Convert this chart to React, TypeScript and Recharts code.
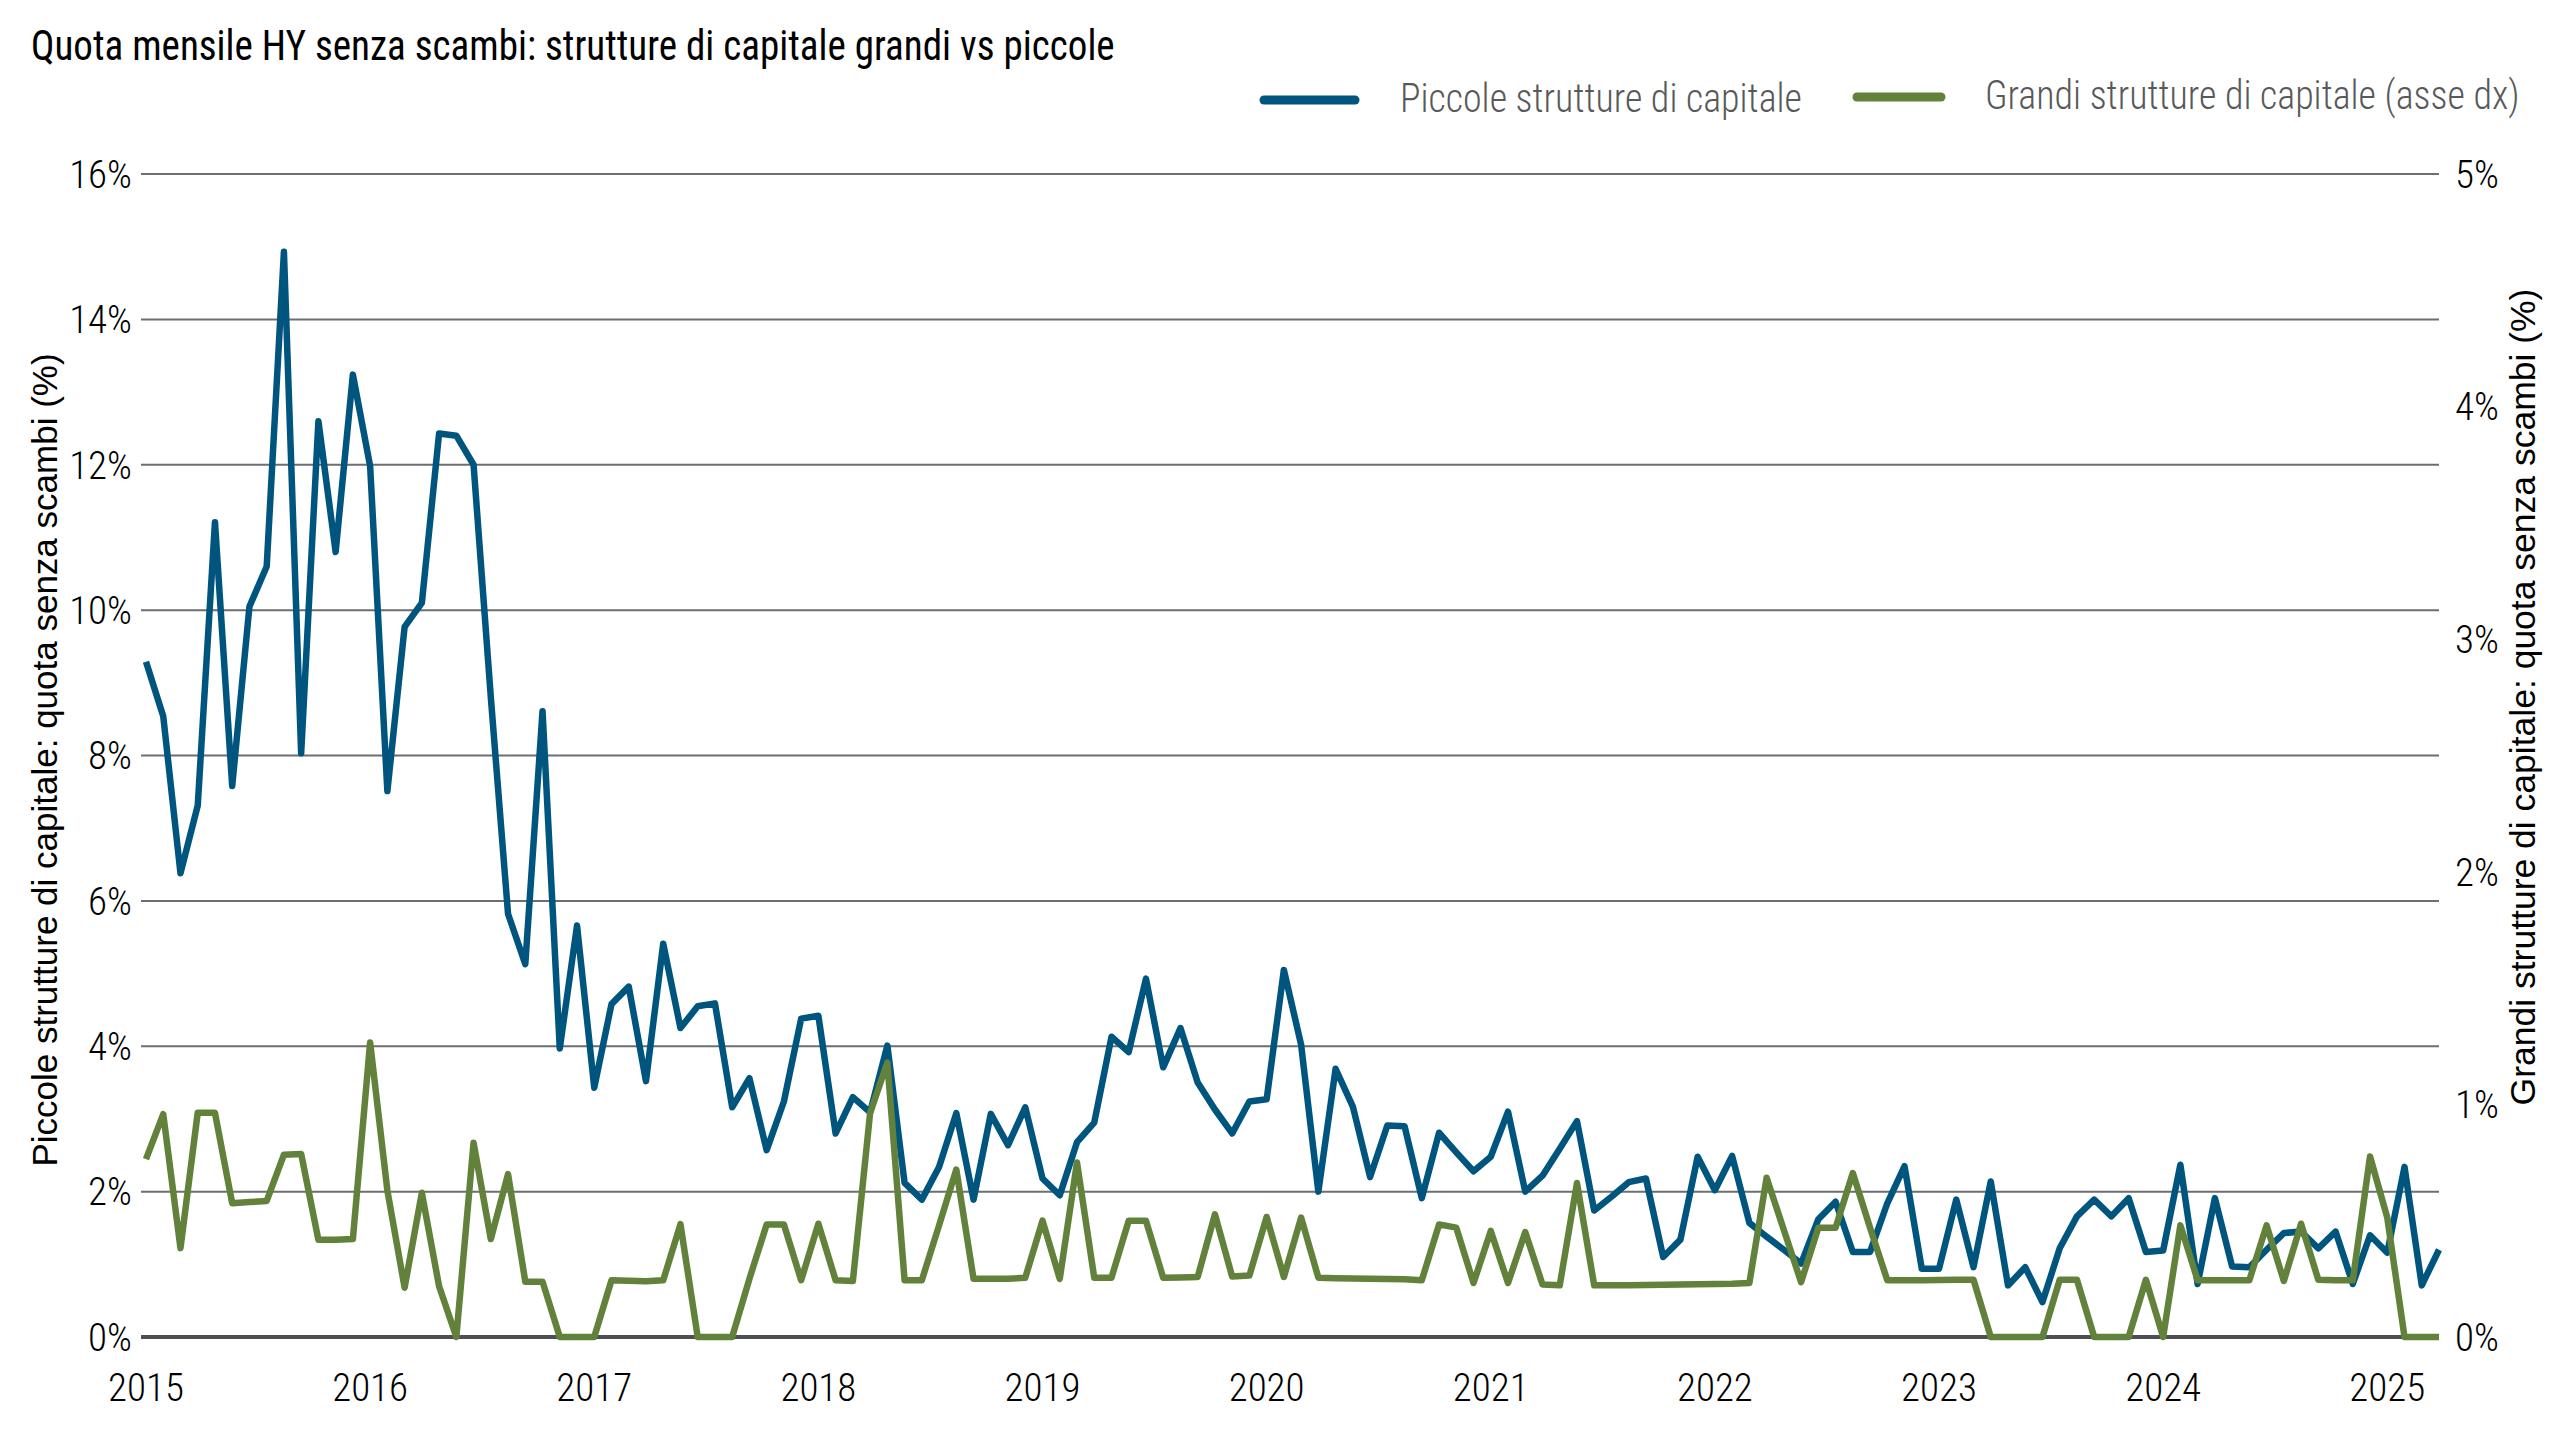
import React from 'react';
import { LineChart, Line, XAxis, YAxis, CartesianGrid, ReferenceLine } from 'recharts';

const START_YEAR = 2015;
const N_MONTHS = 134;
const months: string[] = Array.from({ length: N_MONTHS }, (_, i) =>
  `${START_YEAR + Math.floor(i / 12)}-${String((i % 12) + 1).padStart(2, '0')}`
);

// Piccole strutture di capitale (% senza scambi, asse sx)
const smallCap = [
  9.29, 8.54, 6.38, 7.31, 11.21, 7.58, 10.05, 10.6, 14.93, 8.03, 12.6, 10.8,
  13.24, 11.98, 7.51, 9.77, 10.1, 12.43, 12.4, 12.0, 8.8, 5.82, 5.13, 8.61,
  3.97, 5.66, 3.43, 4.58, 4.82, 3.52, 5.41, 4.25, 4.55, 4.59, 3.16, 3.56,
  2.57, 3.24, 4.38, 4.42, 2.8, 3.3, 3.09, 4.01, 2.12, 1.89, 2.34, 3.08,
  1.89, 3.07, 2.64, 3.16, 2.18, 1.95, 2.68, 2.95, 4.13, 3.92, 4.93, 3.71,
  4.25, 3.5, 3.13, 2.8, 3.24, 3.27, 5.05, 4.02, 2.0, 3.69, 3.17, 2.2,
  2.91, 2.9, 1.91, 2.81, 2.54, 2.28, 2.48, 3.1, 2.0, 2.22, 2.59, 2.97,
  1.74, 1.93, 2.13, 2.18, 1.1, 1.34, 2.48, 2.02, 2.49, 1.57, 1.38, 1.2,
  1.01, 1.62, 1.86, 1.17, 1.17, 1.84, 2.35, 0.94, 0.94, 1.89, 0.96, 2.14,
  0.71, 0.96, 0.48, 1.22, 1.66, 1.89, 1.66, 1.91, 1.17, 1.19, 2.37, 0.73,
  1.91, 0.97, 0.96, 1.2, 1.43, 1.45, 1.22, 1.45, 0.73, 1.4, 1.16, 2.34,
  0.71, 1.2,
];

// Grandi strutture di capitale (% senza scambi, asse dx)
const largeCap = [
  0.765, 0.958, 0.382, 0.964, 0.964, 0.575, 0.58, 0.585, 0.784, 0.787, 0.418, 0.418,
  0.421, 1.266, 0.63, 0.212, 0.62, 0.218, 0, 0.835, 0.421, 0.7, 0.238, 0.238,
  0, 0, 0, 0.244, 0.242, 0.24, 0.244, 0.485, 0, 0, 0, 0.25,
  0.484, 0.484, 0.244, 0.487, 0.244, 0.241, 0.963, 1.18, 0.244, 0.244, 0.48, 0.72,
  0.25, 0.25, 0.25, 0.255, 0.5, 0.25, 0.75, 0.255, 0.255, 0.5, 0.5, 0.255,
  0.256, 0.258, 0.527, 0.26, 0.264, 0.516, 0.258, 0.513, 0.255, 0.253, 0.252, 0.25,
  0.249, 0.248, 0.244, 0.484, 0.47, 0.232, 0.456, 0.232, 0.451, 0.226, 0.222, 0.662,
  0.222, 0.222, 0.223, 0.224, 0.225, 0.226, 0.227, 0.228, 0.229, 0.232, 0.685, 0.46,
  0.236, 0.47, 0.47, 0.705, 0.47, 0.244, 0.244, 0.244, 0.245, 0.246, 0.246, 0,
  0, 0, 0, 0.246, 0.246, 0, 0, 0, 0.246, 0, 0.48, 0.244,
  0.244, 0.244, 0.244, 0.48, 0.241, 0.487, 0.246, 0.244, 0.244, 0.776, 0.513, 0,
  0, 0,
];

const leftTicks = [0, 2, 4, 6, 8, 10, 12, 14, 16];
const rightTicks = [0, 1, 2, 3, 4, 5];

const TITLE = 'Quota mensile HY senza scambi: strutture di capitale grandi vs piccole';
const SERIES_SMALL = 'Piccole strutture di capitale';
const SERIES_LARGE = 'Grandi strutture di capitale (asse dx)';
const LEFT_LABEL = 'Piccole strutture di capitale: quota senza scambi (%)';
const RIGHT_LABEL = 'Grandi strutture di capitale: quota senza scambi (%)';

const BLUE = '#00557f';
const GREEN = '#62813b';
const W = 2560;
const H = 1440;
const FONT_C = "'Roboto Condensed', 'Liberation Sans Narrow', 'DejaVu Sans Condensed', 'Arial Narrow', sans-serif";
const FONT_R = "'Liberation Sans', Arial, sans-serif";

const data = months.map((m, i) => ({ month: m, small: smallCap[i], large: largeCap[i] }));

export default function App() {
  return (
    <div style={{ position: 'absolute', left: 0, top: 0, width: W, height: H, background: '#fff' }}>
      <LineChart width={W} height={H} data={data} margin={{ top: 174, right: 0, bottom: 0, left: 0 }}>
        <CartesianGrid yAxisId="left" vertical={false} stroke="#6d6e71" strokeWidth={2} />
        <XAxis
          dataKey="month"
          interval={12}
          tickFormatter={(v: string) => v.slice(0, 4)}
          axisLine={false}
          tickLine={false}
          height={103}
          tickMargin={30}
          padding={{ left: 5, right: 0 }}
          tick={{ fill: '#000', fontSize: 39, fontFamily: FONT_C, fontWeight: 300 }}
        />
        <YAxis
          yAxisId="left"
          domain={[0, 16]}
          ticks={leftTicks}
          tickFormatter={(v: number) => `${v}%`}
          width={141}
          axisLine={false}
          tickLine={false}
          tickMargin={3}
          tick={{ fill: '#000', fontSize: 39, fontFamily: FONT_C, fontWeight: 300 }}
        />
        <YAxis
          yAxisId="right"
          orientation="right"
          domain={[0, 5]}
          ticks={rightTicks}
          tickFormatter={(v: number) => `${v}%`}
          width={121}
          axisLine={false}
          tickLine={false}
          tickMargin={10}
          tick={{ fill: '#000', fontSize: 39, fontFamily: FONT_C, fontWeight: 300, textAnchor: 'start' }}
        />
        <ReferenceLine yAxisId="left" y={0} stroke="#4d4f53" strokeWidth={4} />
        <Line
          yAxisId="left"
          type="linear"
          dataKey="small"
          name={SERIES_SMALL}
          stroke={BLUE}
          strokeWidth={6.5}
          strokeLinejoin="round"
          dot={false}
          isAnimationActive={false}
        />
        <Line
          yAxisId="right"
          type="linear"
          dataKey="large"
          name={SERIES_LARGE}
          stroke={GREEN}
          strokeWidth={6.5}
          strokeLinejoin="round"
          dot={false}
          isAnimationActive={false}
        />
      </LineChart>
      <svg
        width={W}
        height={H}
        style={{ position: 'absolute', left: 0, top: 0, pointerEvents: 'none' }}
      >
        <text transform="translate(31,60) scale(0.93,1)" fontSize={42} fontFamily={FONT_C} fill="#000">{TITLE}</text>
        <line x1={1264} y1={100} x2={1355} y2={100} stroke={BLUE} strokeWidth={9} strokeLinecap="round" />
        <text transform="translate(1400,112) scale(0.95,1)" fontSize={40} fontFamily={FONT_C} fontWeight={300} fill="#58595b">{SERIES_SMALL}</text>
        <line x1={1857} y1={97} x2={1941} y2={97} stroke={GREEN} strokeWidth={9} strokeLinecap="round" />
        <text transform="translate(1985,109) scale(0.95,1)" fontSize={40} fontFamily={FONT_C} fontWeight={300} fill="#58595b">{SERIES_LARGE}</text>
        <text
          transform="translate(44,760) rotate(-90)"
          textAnchor="middle"
          dominantBaseline="central"
          fontSize={35}
          fontFamily={FONT_R}
          fill="#000"
        >
          {LEFT_LABEL}
        </text>
        <text
          transform="translate(2523,697) rotate(-90)"
          textAnchor="middle"
          dominantBaseline="central"
          fontSize={35.5}
          fontFamily={FONT_R}
          fill="#000"
        >
          {RIGHT_LABEL}
        </text>
      </svg>
    </div>
  );
}
